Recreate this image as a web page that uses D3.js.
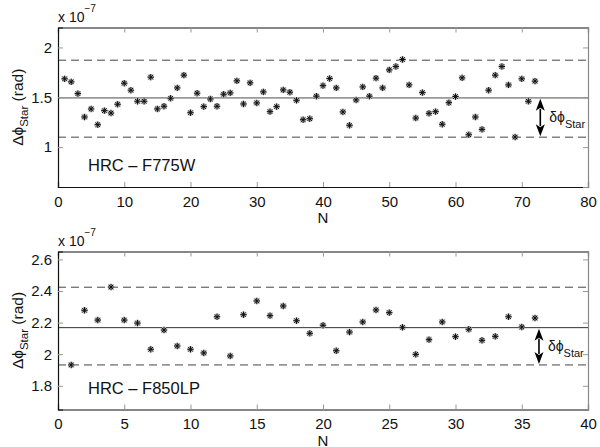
<!DOCTYPE html>
<html><head><meta charset="utf-8">
<script src="https://cdn.jsdelivr.net/npm/d3@7"></script>
<style>
body{margin:0;background:#fff;}
svg{display:block;font-family:"Liberation Sans",Arial,Helvetica,sans-serif;}
</style></head>
<body>
<svg id="chart" width="600" height="447"></svg>
<script>
// ---- data ----
const topValues = [1.685,1.655,1.537,1.302,1.383,1.225,1.366,1.342,1.430,1.641,
  1.571,1.460,1.460,1.702,1.383,1.410,1.490,1.594,1.722,1.345,
  1.541,1.406,1.483,1.410,1.531,1.544,1.665,1.433,1.645,1.443,
  1.554,1.356,1.406,1.574,1.551,1.470,1.275,1.285,1.511,1.617,
  1.688,1.594,1.353,1.219,1.473,1.604,1.511,1.692,1.594,1.775,
  1.809,1.879,1.624,1.292,1.547,1.339,1.356,1.229,1.446,1.507,
  1.695,1.124,1.302,1.178,1.571,1.722,1.809,1.624,1.101,1.685,1.460,1.662];
const bottomValues = [1.932,2.278,2.216,2.425,2.216,2.197,2.031,2.153,2.052,2.031,
  2.008,2.237,1.989,2.250,2.337,2.244,2.305,2.212,2.132,2.183,
  2.022,2.140,2.204,2.280,2.263,2.170,1.999,2.092,2.204,2.111,
  2.158,2.088,2.113,2.237,2.172,2.229];
const topXTicks = [0,10,20,30,40,50,60,70,80];
const topYTicks = [1,1.5,2];
const bottomXTicks = [0,5,10,15,20,25,30,35,40];
const bottomYTicks = [1.8,2,2.2,2.4,2.6];
const topLines = {mean:1.495, upper:1.872, lower:1.100};
const bottomLines = {mean:2.168, upper:2.424, lower:1.932};
const topArrowN = 72.8, bottomArrowN = 36.3;
const topLabel = "HRC – F775W", bottomLabel = "HRC – F850LP";

const svg = d3.select("#chart");

function panel(cfg){
  const {values, xDomain, yDomain, xTicks, yTicks, lines, arrowN, label, top, bottom, meanColor, meanWidth} = cfg;
  const left = 58, right = 588;
  const x = d3.scaleLinear().domain(xDomain).range([left,right]);
  const y = d3.scaleLinear().domain(yDomain).range([bottom,top]);
  const g = svg.append("g");
  const fmt = d => String(d);

  // reference lines
  g.append("line").attr("x1",left).attr("x2",right)
    .attr("y1",y(lines.mean)).attr("y2",y(lines.mean))
    .attr("stroke",meanColor).attr("stroke-width",meanWidth);
  [lines.upper, lines.lower].forEach(v=>{
    g.append("line").attr("x1",left).attr("x2",right)
      .attr("y1",y(v)).attr("y2",y(v))
      .attr("stroke","#444").attr("stroke-width",1)
      .attr("stroke-dasharray","8,5");
  });

  // axes (ticks inward)
  const tl = 5;
  const ax = [
    g.append("g").attr("transform",`translate(0,${bottom})`).call(d3.axisBottom(x).tickValues(xTicks).tickSize(-tl).tickPadding(9).tickFormat(fmt)),
    g.append("g").attr("transform",`translate(0,${top})`).call(d3.axisTop(x).tickValues(xTicks).tickSize(-tl).tickFormat("")),
    g.append("g").attr("transform",`translate(${left},0)`).call(d3.axisLeft(y).tickValues(yTicks).tickSize(-tl).tickPadding(6).tickFormat(fmt)),
    g.append("g").attr("transform",`translate(${right},0)`).call(d3.axisRight(y).tickValues(yTicks).tickSize(-tl).tickFormat(""))
  ];
  ax.forEach(a=>{
    a.select(".domain").attr("stroke","#111").attr("stroke-width",1.2);
    a.selectAll(".tick line").attr("stroke","#999");
    a.selectAll("text").attr("font-size",15).attr("fill","#111")
      .attr("font-family",'"Liberation Sans",Arial,sans-serif');
  });
  ax[3].select(".domain").attr("stroke","#888");

  // asterisk markers
  const r = 3.2;
  const pts = g.append("g").selectAll("g").data(values).join("g")
    .attr("transform",(d,i)=>`translate(${x(i+1)},${y(d)})`);
  const starPath = `M${-r},0H${r}M0,${-r}V${r}M${-r*0.72},${-r*0.72}L${r*0.72},${r*0.72}M${-r*0.72},${r*0.72}L${r*0.72},${-r*0.72}`;
  pts.append("path").attr("d",starPath).attr("stroke","#bbb").attr("stroke-width",2.4).attr("fill","none");
  pts.append("path").attr("d",starPath).attr("stroke","#111").attr("stroke-width",1).attr("fill","none");

  // double-headed arrow
  const ax0 = x(arrowN), ya = y(lines.mean)+1, yb = y(lines.lower)-1;
  const hl = 12, hw = 4.5;
  g.append("line").attr("x1",ax0).attr("x2",ax0).attr("y1",ya+hl-2).attr("y2",yb-hl+2)
    .attr("stroke","#000").attr("stroke-width",1.6);
  g.append("path").attr("d",`M${ax0},${ya}L${ax0-hw},${ya+hl}L${ax0},${ya+hl-3}L${ax0+hw},${ya+hl}Z`).attr("fill","#000");
  g.append("path").attr("d",`M${ax0},${yb}L${ax0-hw},${yb-hl}L${ax0},${yb-hl+3}L${ax0+hw},${yb-hl}Z`).attr("fill","#000");
  const tm = (ya+yb)/2;
  const dt = g.append("text").attr("x",ax0+9).attr("y",tm+5).attr("font-size",14).attr("fill","#111");
  dt.append("tspan").text("δϕ");
  dt.append("tspan").attr("dy",6).attr("font-size",11).text("Star");

  // panel label
  g.append("text").attr("x",x(xDomain[0])+30).attr("y",bottom-16)
    .attr("font-size",16.5).attr("fill","#111").text(label);

  // x 10^-7
  const ex = g.append("text").attr("x",left).attr("y",top-6).attr("font-size",14).attr("fill","#111");
  ex.append("tspan").text("x 10");
  ex.append("tspan").attr("dy",-10).attr("font-size",10).text("−7");

  // x label
  g.append("text").attr("x",(left+right)/2).attr("y",bottom+36).attr("text-anchor","middle")
    .attr("font-size",15).attr("fill","#111").text("N");

  // y label
  const yl = g.append("text").attr("transform",`translate(23,${(top+bottom)/2}) rotate(-90)`)
    .attr("text-anchor","middle").attr("font-size",15.5).attr("fill","#111");
  yl.append("tspan").text("Δϕ");
  yl.append("tspan").attr("dy",5).attr("font-size",11.5).text("Star");
  yl.append("tspan").attr("dy",-5).text(" (rad)");
}

panel({values:topValues, xDomain:[0,80], yDomain:[0.6,2.2], xTicks:topXTicks, yTicks:topYTicks,
  lines:topLines, arrowN:topArrowN, label:topLabel, top:27.5, bottom:187, meanColor:"#999", meanWidth:1.8});
panel({values:bottomValues, xDomain:[0,40], yDomain:[1.65,2.65], xTicks:bottomXTicks, yTicks:bottomYTicks,
  lines:bottomLines, arrowN:bottomArrowN, label:bottomLabel, top:251.5, bottom:409.5, meanColor:"#333", meanWidth:1});
</script>
</body></html>
